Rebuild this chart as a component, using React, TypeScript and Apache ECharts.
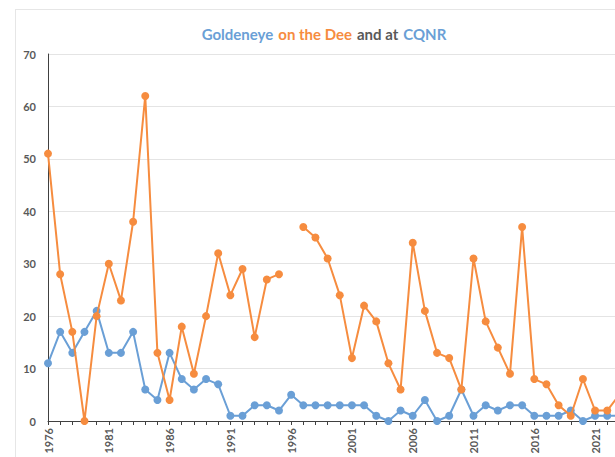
import React, { useEffect, useRef } from "react";
import * as echarts from "echarts";

const years: string[] = [];
for (let y = 1976; y <= 2023; y++) years.push(String(y));

const deeValues: (number | null)[] = [
  51, 28, 17, 0, 20, 30, 23, 38, 62, 13,
  4, 18, 9, 20, 32, 24, 29, 16, 27, 28,
  null, 37, 35, 31, 24, 12, 22, 19, 11, 6,
  34, 21, 13, 12, 6, 31, 19, 14, 9, 37,
  8, 7, 3, 1, 8, 2, 2, 5,
];

const cqnrValues: number[] = [
  11, 17, 13, 17, 21, 13, 13, 17, 6, 4,
  13, 8, 6, 8, 7, 1, 1, 3, 3, 2,
  5, 3, 3, 3, 3, 3, 3, 1, 0, 2,
  1, 4, 0, 1, 6, 1, 3, 2, 3, 3,
  1, 1, 1, 2, 0, 1, 1, 1,
];

const BLUE = "#6A9FD6";
const ORANGE = "#F68C3F";
const GRAY = "#595959";

export default function App() {
  const ref = useRef<HTMLDivElement>(null);
  useEffect(() => {
    if (!ref.current) return;
    const chart = echarts.init(ref.current, null, { renderer: "svg" });
    chart.setOption({
      animation: false,
      backgroundColor: "#fff",
      title: {
        left: "center",
        top: 10,
        text: "{a|Goldeneye} {b|on the Dee} {c|and at} {a|CQNR}",
        textStyle: {
          rich: {
            a: { color: BLUE, fontFamily: "Lato", fontWeight: "bold", fontSize: 15 },
            b: { color: ORANGE, fontFamily: "Lato", fontWeight: "bold", fontSize: 15 },
            c: { color: GRAY, fontFamily: "Lato", fontWeight: "bold", fontSize: 15 },
          },
        },
      },
      grid: { left: 32, right: 12.6, top: 44, bottom: 47 },
      xAxis: {
        type: "category",
        data: years,
        boundaryGap: false,
        axisLine: { lineStyle: { color: "#404040", width: 1 } },
        axisTick: { show: true, interval: 0, length: 4, lineStyle: { color: "#404040" } },
        axisLabel: {
          interval: 4,
          rotate: 90,
          color: GRAY,
          fontFamily: "Lato",
          fontWeight: "bold",
          fontSize: 11,
          margin: 7,
        },
        splitLine: { show: false },
      },
      yAxis: {
        type: "value",
        min: 0,
        max: 70,
        interval: 10,
        axisLine: { show: true, lineStyle: { color: "#404040", width: 1 } },
        axisTick: { show: false },
        axisLabel: {
          color: GRAY,
          fontFamily: "Lato",
          fontWeight: "bold",
          fontSize: 11,
          margin: 12,
        },
        splitLine: { lineStyle: { color: "#E4E4E4", width: 1 } },
      },
      series: [
        {
          name: "CQNR",
          type: "line",
          data: cqnrValues,
          symbol: "circle",
          symbolSize: 8,
          showAllSymbol: true,
          lineStyle: { color: BLUE, width: 2 },
          itemStyle: { color: BLUE },
          z: 2,
        },
        {
          name: "Dee",
          type: "line",
          data: deeValues,
          symbol: "circle",
          symbolSize: 8,
          showAllSymbol: true,
          connectNulls: false,
          lineStyle: { color: ORANGE, width: 2 },
          itemStyle: { color: ORANGE },
          z: 3,
        },
      ],
    });
    return () => chart.dispose();
  }, []);

  return (
    <div
      style={{
        position: "fixed",
        left: 0,
        top: 0,
        width: 615,
        height: 457,
        overflow: "hidden",
        background: "#fff",
      }}
    >
      <div
        style={{
          position: "absolute",
          left: 15,
          top: 9,
          width: 618,
          height: 460,
          border: "1px solid #E6E6E6",
          boxSizing: "border-box",
        }}
      >
        <div ref={ref} style={{ position: "absolute", left: 0, top: 0, width: 616, height: 458 }} />
      </div>
    </div>
  );
}
